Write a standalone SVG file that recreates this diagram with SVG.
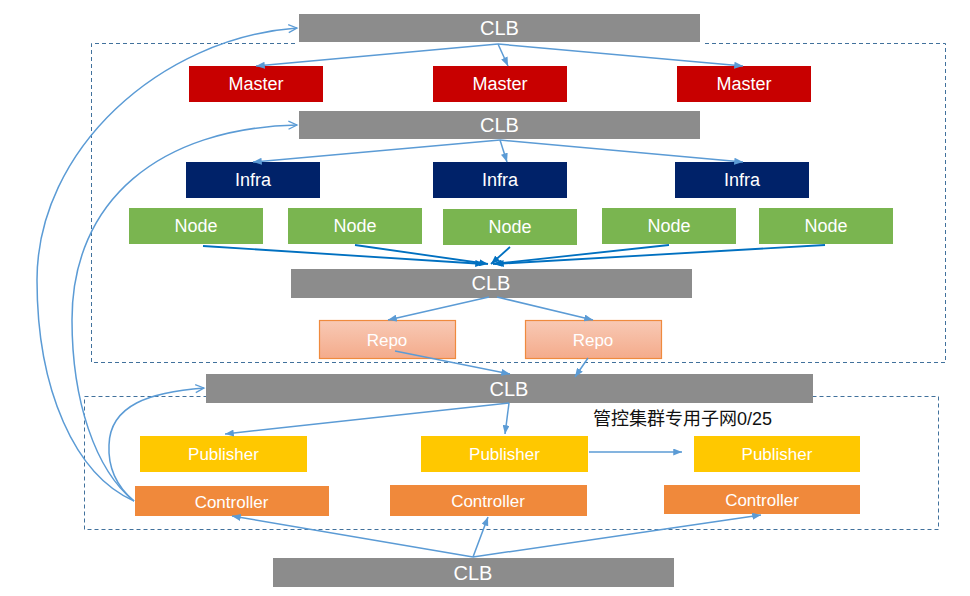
<svg xmlns="http://www.w3.org/2000/svg" width="970" height="596" viewBox="0 0 970 596">
<style>
  .clb{fill:#8c8c8c}
  .master{fill:#c80000}
  .infra{fill:#002269}
  .node{fill:#7ab550}
  .repo{fill:url(#repoGrad);stroke:#ef8a3e;stroke-width:1.2}
  .pub{fill:#ffc800}
  .ctl{fill:#f0893b}
  .lbl{font-family:"Liberation Sans",Arial,sans-serif;fill:#ffffff;text-anchor:middle}
  .c20{font-size:20px}
  .c18{font-size:18px}
  .c17{font-size:17px}
  .dash{fill:none;stroke:#41719c;stroke-width:1;stroke-dasharray:4 3}
  .ln{fill:none;stroke:#5b9bd5;stroke-width:1.5}
  .lnd{fill:none;stroke:#0070c0;stroke-width:1.8}
</style>
<defs>
  <linearGradient id="repoGrad" x1="0" y1="0" x2="0" y2="1">
    <stop offset="0" stop-color="#f8c9b5"/>
    <stop offset="1" stop-color="#f4ab8b"/>
  </linearGradient>
  <marker id="tri" viewBox="0 0 10 8" refX="10" refY="4" markerWidth="9" markerHeight="7" markerUnits="userSpaceOnUse" orient="auto">
    <path d="M0,0 L10,4 L0,8 z" fill="#5b9bd5"/>
  </marker>
  <marker id="trid" viewBox="0 0 10 8" refX="10" refY="4" markerWidth="9" markerHeight="7" markerUnits="userSpaceOnUse" orient="auto">
    <path d="M0,0 L10,4 L0,8 z" fill="#0070c0"/>
  </marker>
  <marker id="open" viewBox="0 0 10 10" refX="9.5" refY="5" markerWidth="9" markerHeight="9" markerUnits="userSpaceOnUse" orient="auto" overflow="visible">
    <path d="M0,0.5 L9.5,5 L0,9.5" fill="none" stroke="#5b9bd5" stroke-width="1.4"/>
  </marker>
</defs>

<rect width="970" height="596" fill="#ffffff"/>

<!-- dashed boundaries -->
<g id="zones">
  <path class="dash" d="M295,43.5 H91.5 V362.5 H945.5 V43.5 H703"/>
  <rect class="dash" x="84.5" y="396.5" width="854" height="133"/>
  <text x="593" y="425" font-family="'Liberation Sans','Noto Sans CJK SC',sans-serif" font-size="18" fill="#111111">管控集群专用子网0/25</text>
</g>

<!-- nodes -->
<g id="clb-top"><rect class="clb" x="299" y="14" width="401" height="28"/><text class="lbl c20" x="499.5" y="35">CLB</text></g>
<g id="master-1"><rect class="master" x="189" y="66" width="134" height="36"/><text class="lbl c18" x="256" y="90">Master</text></g>
<g id="master-2"><rect class="master" x="433" y="66" width="134" height="36"/><text class="lbl c18" x="500" y="90">Master</text></g>
<g id="master-3"><rect class="master" x="677" y="66" width="134" height="36"/><text class="lbl c18" x="744" y="90">Master</text></g>

<g id="clb-2"><rect class="clb" x="299" y="111" width="401" height="28"/><text class="lbl c20" x="499.5" y="132">CLB</text></g>
<g id="infra-1"><rect class="infra" x="186" y="162" width="134" height="36"/><text class="lbl c18" x="253" y="186">Infra</text></g>
<g id="infra-2"><rect class="infra" x="433" y="162" width="134" height="36"/><text class="lbl c18" x="500" y="186">Infra</text></g>
<g id="infra-3"><rect class="infra" x="675" y="162" width="134" height="36"/><text class="lbl c18" x="742" y="186">Infra</text></g>

<g id="node-1"><rect class="node" x="129" y="208" width="134" height="36"/><text class="lbl c18" x="196" y="232">Node</text></g>
<g id="node-2"><rect class="node" x="288" y="208" width="134" height="36"/><text class="lbl c18" x="355" y="232">Node</text></g>
<g id="node-3"><rect class="node" x="443" y="209" width="134" height="36"/><text class="lbl c18" x="510" y="233">Node</text></g>
<g id="node-4"><rect class="node" x="602" y="208" width="134" height="36"/><text class="lbl c18" x="669" y="232">Node</text></g>
<g id="node-5"><rect class="node" x="759" y="208" width="134" height="36"/><text class="lbl c18" x="826" y="232">Node</text></g>

<g id="clb-3"><rect class="clb" x="291" y="269" width="401" height="29"/><text class="lbl c20" x="491" y="290">CLB</text></g>
<g id="repo-1"><rect class="repo" x="319.5" y="320.5" width="136" height="38"/><text class="lbl c17" x="387" y="345.5">Repo</text></g>
<g id="repo-2"><rect class="repo" x="525.5" y="320.5" width="136" height="38"/><text class="lbl c17" x="593" y="345.5">Repo</text></g>

<g id="clb-4"><rect class="clb" x="206" y="374" width="607" height="29"/><text class="lbl c20" x="509" y="396">CLB</text></g>

<g id="publisher-1"><rect class="pub" x="140" y="436" width="167" height="36"/><text class="lbl c17" x="223.5" y="460">Publisher</text></g>
<g id="publisher-2"><rect class="pub" x="421" y="436" width="167" height="36"/><text class="lbl c17" x="504.5" y="460">Publisher</text></g>
<g id="publisher-3"><rect class="pub" x="694" y="436" width="166" height="36"/><text class="lbl c17" x="777" y="460">Publisher</text></g>

<g id="controller-1"><rect class="ctl" x="135" y="486" width="194" height="30"/><text class="lbl c17" x="231.5" y="508">Controller</text></g>
<g id="controller-2"><rect class="ctl" x="390" y="485" width="197" height="31"/><text class="lbl c17" x="488" y="507">Controller</text></g>
<g id="controller-3"><rect class="ctl" x="664" y="485" width="196" height="29"/><text class="lbl c17" x="762" y="506">Controller</text></g>

<g id="clb-bottom"><rect class="clb" x="273" y="558" width="401" height="29"/><text class="lbl c20" x="473" y="579.5">CLB</text></g>

<!-- connectors -->
<g id="connectors">
  <!-- CLB top to masters -->
  <line class="ln" x1="498" y1="44" x2="256" y2="66" marker-end="url(#tri)"/>
  <line class="ln" x1="498" y1="44" x2="508" y2="66" marker-end="url(#tri)"/>
  <line class="ln" x1="498" y1="44" x2="743" y2="66" marker-end="url(#tri)"/>
  <!-- CLB2 to infra -->
  <line class="ln" x1="500" y1="140" x2="253" y2="162" marker-end="url(#tri)"/>
  <line class="ln" x1="500" y1="140" x2="507" y2="162" marker-end="url(#tri)"/>
  <line class="ln" x1="500" y1="140" x2="743" y2="162" marker-end="url(#tri)"/>
  <!-- nodes to CLB3 -->
  <line class="lnd" x1="203" y1="246" x2="484" y2="264" marker-end="url(#trid)"/>
  <line class="lnd" x1="355" y1="245" x2="488" y2="264" marker-end="url(#trid)"/>
  <line class="lnd" x1="510" y1="247" x2="491" y2="264" marker-end="url(#trid)"/>
  <line class="lnd" x1="669" y1="245" x2="493" y2="264" marker-end="url(#trid)"/>
  <line class="lnd" x1="825" y1="245" x2="495" y2="264" marker-end="url(#trid)"/>
  <!-- CLB3 to repos -->
  <line class="ln" x1="489" y1="297" x2="388" y2="320" marker-end="url(#tri)"/>
  <line class="ln" x1="497" y1="297" x2="593" y2="320" marker-end="url(#tri)"/>
  <!-- repos to CLB4 -->
  <line class="ln" x1="395" y1="351" x2="510" y2="374" marker-end="url(#tri)"/>
  <line class="ln" x1="588" y1="358" x2="575" y2="377" marker-end="url(#tri)"/>
  <!-- CLB4 to publishers -->
  <line class="ln" x1="509" y1="403" x2="225" y2="434" marker-end="url(#tri)"/>
  <line class="ln" x1="509" y1="403" x2="505" y2="434" marker-end="url(#tri)"/>
  <!-- publisher to publisher -->
  <line class="ln" x1="589" y1="452" x2="682" y2="452" marker-end="url(#tri)"/>
  <!-- bottom CLB to controllers -->
  <line class="ln" x1="473" y1="557" x2="232" y2="516" marker-end="url(#tri)"/>
  <line class="ln" x1="473" y1="557" x2="488" y2="517" marker-end="url(#tri)"/>
  <line class="ln" x1="473" y1="557" x2="761" y2="515" marker-end="url(#tri)"/>
  <!-- controller curves back to CLBs -->
  <path class="ln" d="M134,501 C75,475 37,390 37,280 C37,150 160,38 297,28" marker-end="url(#open)"/>
  <path class="ln" d="M134,501 C95,470 72,400 72,320 C72,200 160,128 297,125" marker-end="url(#open)"/>
  <path class="ln" d="M134,501 C115,485 108,465 109,445 C110,405 150,392 204,388" marker-end="url(#open)"/>
</g>
</svg>
